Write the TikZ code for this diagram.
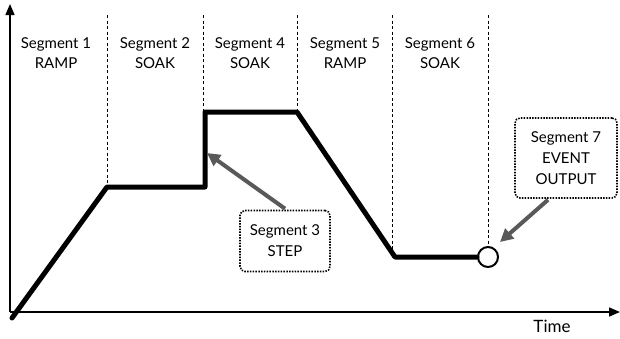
\documentclass[tikz,border=0pt]{standalone}
\usepackage{fontspec}
\setmainfont{Lato}
\usetikzlibrary{arrows.meta}
\begin{document}
\begin{tikzpicture}[x=1pt,y=-1pt,
  seglbl/.style={font=\fontsize{15}{20}\selectfont, align=center},
  divider/.style={line width=0.7pt, dash pattern=on 3pt off 2.5pt},
  profile/.style={line width=5pt, line join=round, line cap=round},
  callout/.style={draw, rounded corners=5pt, line width=1.6pt, dash pattern=on 1.5pt off 1.3pt, align=center, font=\fontsize{15}{21}\selectfont, fill=white, inner sep=4pt},
  pointer/.style={draw=gray!70!black, line width=4pt, -{Triangle[length=13pt,width=13pt]}},
  axis/.style={line width=1.5pt, -{Triangle[length=11pt,width=9pt]}}
]
\useasboundingbox (0,0) rectangle (620,338);
% axes
\coordinate (O) at (10,312);
\coordinate (ytop) at (10,4);
\coordinate (xend) at (620,312);
\draw[axis] (O) -- (ytop);
\draw[axis] (O) -- (xend);
\node[font=\fontsize{17}{20}\selectfont] (time) at (552,326) {Time};
% profile points
\coordinate (p0) at (12,318);
\coordinate (p1) at (107,187);
\coordinate (p2) at (205,187);
\coordinate (p3) at (205,112);
\coordinate (p4) at (297,112);
\coordinate (p5) at (395,257);
\node[draw, circle, line width=2pt, minimum size=20pt, inner sep=0pt, fill=white] (ev) at (488,257) {};
% dividers
\coordinate (d1t) at (107,15);
\coordinate (d2t) at (203,15);
\coordinate (d3t) at (297,15);
\coordinate (d4t) at (392,15);
\coordinate (d5t) at (488,15);
\coordinate (d2b) at (203,112);
\coordinate (d4b) at (392,252);
\draw[divider] (d1t) -- (p1);
\draw[divider] (d2t) -- (d2b);
\draw[divider] (d3t) -- (p4);
\draw[divider] (d4t) -- (d4b);
\draw[divider] (d5t) -- (ev.north);
\draw[profile] (p0) -- (p1) -- (p2) -- (p3) -- (p4) -- (p5) -- (ev.west);
% segment labels
\node[seglbl] (s1) at (56,53) {Segment 1\\RAMP};
\node[seglbl] (s2) at (155,53) {Segment 2\\SOAK};
\node[seglbl] (s4) at (250,53) {Segment 4\\SOAK};
\node[seglbl] (s5) at (345,53) {Segment 5\\RAMP};
\node[seglbl] (s6) at (440,53) {Segment 6\\SOAK};
% callouts
\node[callout, minimum width=90pt, minimum height=61pt] (c3) at (285,241) {Segment 3\\STEP};
\node[callout, minimum width=102pt, minimum height=80pt] (c7) at (566,158) {Segment 7\\EVENT\\OUTPUT};
\coordinate (a3) at (207,153);
\coordinate (a7) at (500,242);
\draw[pointer] (c3.north) ++(0,-1) -- (a3);
\draw[pointer] (c7.south) ++(-18,1) -- (a7);
\end{tikzpicture}
\end{document}
